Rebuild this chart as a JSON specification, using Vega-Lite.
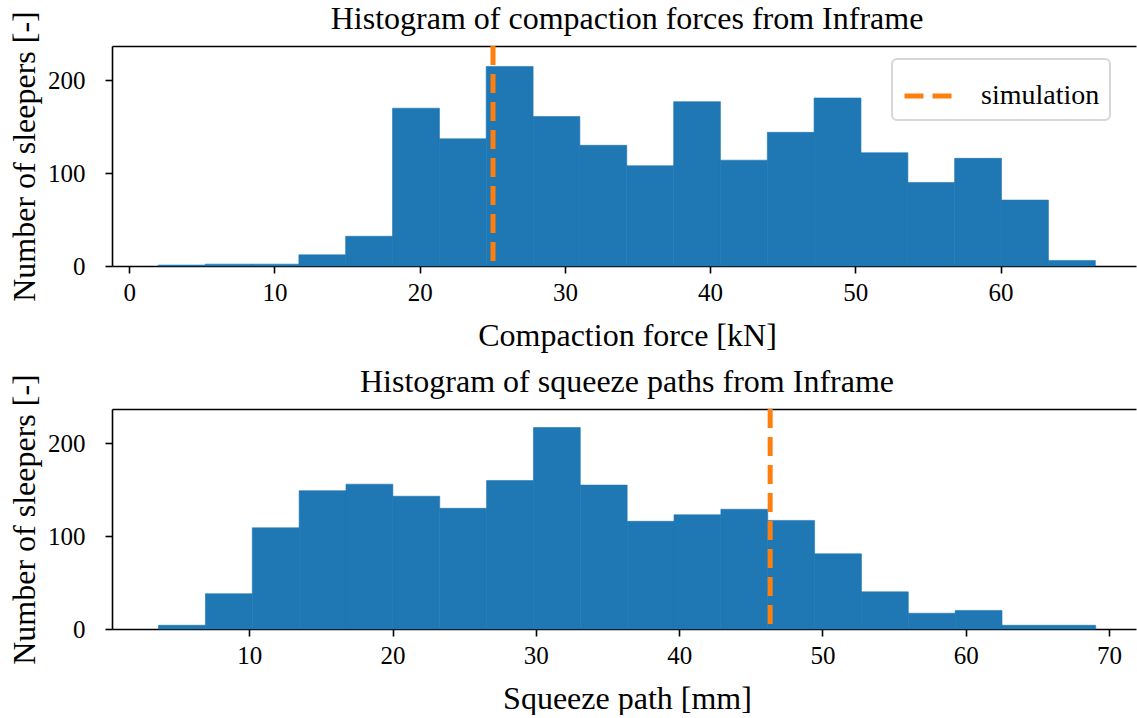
{
  "$schema": "https://vega.github.io/schema/vega-lite/v6.json",
  "background": "white",
  "padding": {"left": 7, "top": 2, "right": 0, "bottom": 0},
  "spacing": 13,
  "config": {
    "font": "Liberation Serif",
    "view": {"stroke": "transparent"},
    "axis": {
      "grid": false,
      "domainColor": "black",
      "domainWidth": 1.6,
      "tickColor": "black",
      "tickWidth": 1.6,
      "tickSize": 7,
      "labelFont": "Liberation Serif",
      "labelFontSize": 25,
      "labelColor": "black",
      "labelPadding": 7,
      "titleFont": "Liberation Serif",
      "titleFontSize": 32,
      "titleFontWeight": "normal",
      "titleColor": "black",
      "zindex": 1
    },
    "axisX": {"titlePadding": 15, "titleX": 515},
    "axisY": {"titlePadding": 6, "labelPadding": 20},
    "title": {"font": "Liberation Serif", "fontSize": 32, "fontWeight": "normal", "color": "black", "offset": -25, "dx": 3, "frame": "group"},
    "legend": {
      "orient": "none",
      "legendX": 780,
      "legendY": 13,
      "title": null,
      "symbolType": "stroke",
      "symbolStrokeWidth": 5,
      "symbolDash": [19, 9],
      "symbolSize": 2400,
      "labelFont": "Liberation Serif",
      "labelFontSize": 28,
      "labelColor": "black",
      "labelOffset": 25,
      "fillColor": "white",
      "strokeColor": "#d6d6d6",
      "strokeWidth": 2,
      "cornerRadius": 5,
      "padding": 10
    }
  },
  "vconcat": [
    {
      "title": {"text": "Histogram of compaction forces from Inframe"},
      "width": 1024,
      "height": 220,
      "view": {"stroke": "transparent"},
      "layer": [
        {
          "data": {"values": [
            {"start": 2.0, "end": 5.23, "count": 1},
            {"start": 5.23, "end": 8.45, "count": 2},
            {"start": 8.45, "end": 11.68, "count": 2},
            {"start": 11.68, "end": 14.9, "count": 12},
            {"start": 14.9, "end": 18.13, "count": 32},
            {"start": 18.13, "end": 21.36, "count": 170},
            {"start": 21.36, "end": 24.58, "count": 137},
            {"start": 24.58, "end": 27.81, "count": 215},
            {"start": 27.81, "end": 31.03, "count": 161},
            {"start": 31.03, "end": 34.26, "count": 130},
            {"start": 34.26, "end": 37.49, "count": 108},
            {"start": 37.49, "end": 40.71, "count": 177},
            {"start": 40.71, "end": 43.94, "count": 114},
            {"start": 43.94, "end": 47.16, "count": 144},
            {"start": 47.16, "end": 50.39, "count": 181},
            {"start": 50.39, "end": 53.62, "count": 122},
            {"start": 53.62, "end": 56.84, "count": 90},
            {"start": 56.84, "end": 60.07, "count": 116},
            {"start": 60.07, "end": 63.3, "count": 71},
            {"start": 63.3, "end": 66.53, "count": 6}
          ]},
          "mark": {"type": "bar", "color": "#1f77b4", "stroke": "#1f77b4", "strokeWidth": 0.6},
          "encoding": {
            "x": {"field": "start", "type": "quantitative",
                  "scale": {"domain": [-1.19, 69.33], "nice": false, "zero": false},
                  "axis": {"values": [0, 10, 20, 30, 40, 50, 60], "format": "d", "title": "Compaction force [kN]"}},
            "x2": {"field": "end"},
            "y": {"field": "count", "type": "quantitative",
                  "scale": {"domain": [0, 237], "nice": false},
                  "axis": {"values": [0, 100, 200], "title": "Number of sleepers [-]"}},
            "y2": {"datum": 0}
          }
        },
        {
          "data": {"values": [{"value": 25.05, "series": "simulation"}]},
          "mark": {"type": "rule", "strokeWidth": 5, "strokeDash": [19, 9]},
          "encoding": {
            "x": {"field": "value", "type": "quantitative",
                  "axis": {"orient": "top", "labels": false, "ticks": false, "title": null, "domain": true}},
            "color": {"field": "series", "type": "nominal", "scale": {"range": ["#ff7f0e"]}}
          }
        }
      ],
      "resolve": {"axis": {"x": "independent"}}
    },
    {
      "title": {"text": "Histogram of squeeze paths from Inframe"},
      "width": 1024,
      "height": 220,
      "view": {"stroke": "transparent"},
      "layer": [
        {
          "data": {"values": [
            {"start": 3.67, "end": 6.94, "count": 4},
            {"start": 6.94, "end": 10.21, "count": 38},
            {"start": 10.21, "end": 13.48, "count": 109},
            {"start": 13.48, "end": 16.75, "count": 149},
            {"start": 16.75, "end": 20.02, "count": 156},
            {"start": 20.02, "end": 23.29, "count": 143},
            {"start": 23.29, "end": 26.56, "count": 130},
            {"start": 26.56, "end": 29.83, "count": 160},
            {"start": 29.83, "end": 33.1, "count": 217},
            {"start": 33.1, "end": 36.37, "count": 155},
            {"start": 36.37, "end": 39.64, "count": 116},
            {"start": 39.64, "end": 42.91, "count": 123},
            {"start": 42.91, "end": 46.18, "count": 129},
            {"start": 46.18, "end": 49.45, "count": 117},
            {"start": 49.45, "end": 52.72, "count": 81},
            {"start": 52.72, "end": 55.99, "count": 40},
            {"start": 55.99, "end": 59.26, "count": 17},
            {"start": 59.26, "end": 62.53, "count": 20},
            {"start": 62.53, "end": 65.8, "count": 4},
            {"start": 65.8, "end": 69.07, "count": 4}
          ]},
          "mark": {"type": "bar", "color": "#1f77b4", "stroke": "#1f77b4", "strokeWidth": 0.6},
          "encoding": {
            "x": {"field": "start", "type": "quantitative",
                  "scale": {"domain": [0.42, 71.88], "nice": false, "zero": false},
                  "axis": {"values": [10, 20, 30, 40, 50, 60, 70], "format": "d", "title": "Squeeze path [mm]"}},
            "x2": {"field": "end"},
            "y": {"field": "count", "type": "quantitative",
                  "scale": {"domain": [0, 237], "nice": false},
                  "axis": {"values": [0, 100, 200], "title": "Number of sleepers [-]"}},
            "y2": {"datum": 0}
          }
        },
        {
          "data": {"values": [{"value": 46.35, "series": "simulation"}]},
          "mark": {"type": "rule", "strokeWidth": 5, "strokeDash": [19, 9]},
          "encoding": {
            "x": {"field": "value", "type": "quantitative",
                  "axis": {"orient": "top", "labels": false, "ticks": false, "title": null, "domain": true}},
            "color": {"field": "series", "type": "nominal", "scale": {"range": ["#ff7f0e"]}}
          }
        }
      ],
      "resolve": {"axis": {"x": "independent"}}
    }
  ]
}
